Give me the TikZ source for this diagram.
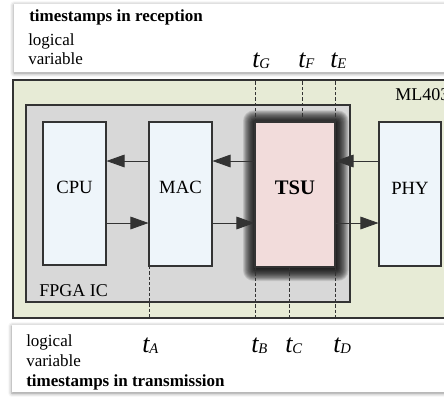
\documentclass[tikz,border=0pt]{standalone}
\usepackage{fontspec}
\setmainfont{Liberation Serif}
\usetikzlibrary{arrows.meta,shadows.blur,fit}

% timestamp symbol: italic t with a slightly lowered italic subscript
\newcommand{\stamp}[1]{{\fontsize{19.5}{20}\selectfont\itshape t\raisebox{-0.8pt}{\fontsize{11}{11}\selectfont\itshape #1}}}

\definecolor{boardfill}{HTML}{E7EBD6}
\definecolor{chipfill}{HTML}{D8D8D8}
\definecolor{blockfill}{HTML}{EEF5FA}
\definecolor{tsufill}{HTML}{F2DCDB}
\definecolor{edge}{HTML}{333333}

\begin{document}
\begin{tikzpicture}[x=0.75pt,y=-0.75pt,
  panel/.style={fill=white, draw=none,
    blur shadow={shadow xshift=0pt, shadow yshift=-0.8pt, shadow blur radius=3pt, shadow opacity=45}},
  frame/.style={draw=edge, line width=0.8pt, inner sep=0pt},
  blk/.style={frame, fill=blockfill, font=\fontsize{14}{16}\selectfont},
  tsublk/.style={frame, fill=tsufill, font=\fontsize{15.5}{17}\selectfont\bfseries},
  halo/.style={fill=black, opacity=0.1},
  txt/.style={anchor=base west, inner sep=0pt, font=\fontsize{12.75}{14}\selectfont},
  head/.style={txt, font=\fontsize{12.75}{14}\selectfont\bfseries},
  ts/.style={anchor=base west, inner sep=0pt},
  arr/.style={draw=edge, line width=0.6pt, -{Triangle[length=13.5pt,width=9.5pt]}},
  tick/.style={draw=edge, line width=0.5pt, dash pattern=on 2.6pt off 1.4pt}
]
\useasboundingbox (0,0) rectangle (444,397);
\clip (0,0) rectangle (444,397);

% reception panel
\node[panel, fit={(14,4) (470,72)}, inner sep=0pt] (rxpanel) {};
\node[head] (rxhead) at (29,21) {timestamps in reception};
\node[txt] (rxl1) at (28,45) {logical};
\node[txt] (rxl2) at (28,64) {variable};

% transmission panel
\node[panel, fit={(12,325) (470,392)}, inner sep=0pt] (txpanel) {};
\node[txt] (txl1) at (26,346) {logical};
\node[txt] (txl2) at (26,366) {variable};
\node[head] (txhead) at (26,386) {timestamps in transmission};

% board and FPGA
\node[frame, fill=boardfill, fit={(13,80) (470,318)}] (board) {};
\node[txt, font=\fontsize{13.5}{15}\selectfont] (boardlbl) at (395,100) {ML403};
\node[frame, fill=chipfill, fit={(26,105) (350,302)}] (fpga) {};
\node[txt, font=\fontsize{13.5}{15}\selectfont] (fpgalbl) at (39,296) {FPGA IC};

% functional blocks
\node[blk, fit={(43,122) (106,265)}] (cpu) {CPU};
\node[blk, fit={(149,122) (212,266)}] (mac) {MAC};
\coordinate (tsunw) at (255,122);
\coordinate (tsuse) at (335,267);
% soft dark shadow round the TSU, built from stacked translucent layers
\foreach \i in {1,...,16} {
  \fill[halo, rounded corners=0.5*\i pt]
    ([shift={(-0.8*\i+0.8,-0.8*\i+1.2)}]tsunw) rectangle ([shift={(0.8*\i+0.8,0.8*\i+1.2)}]tsuse);
}
\node[tsublk, fit=(tsunw) (tsuse)] (tsu) {TSU};
\node[blk, fit={(379,122) (441,266)}] (phy) {PHY};

% rows of the receive and transmit paths
\coordinate (rxrow) at (0,161);
\coordinate (txrow) at (0,223);

\draw[arr] (mac.west |- rxrow) -- (cpu.east |- rxrow);
\draw[arr] (tsu.west |- rxrow) -- (mac.east |- rxrow);
\draw[arr] (phy.west |- rxrow) -- (tsu.east |- rxrow);
\draw[arr] (cpu.east |- txrow) -- (mac.west |- txrow);
\draw[arr] (mac.east |- txrow) -- (tsu.west |- txrow);
\draw[arr] (tsu.east |- txrow) -- (phy.west |- txrow);

% timestamp tap points
\coordinate (tG) at (255,122);
\coordinate (tF) at (302,122);
\coordinate (tE) at (335,122);
\coordinate (tA) at (149,266);
\coordinate (tB) at (255,267);
\coordinate (tC) at (289,267);
\coordinate (tD) at (335,267);

\draw[tick] (tG) -- (tG |- board.north);
\draw[tick] (tF) -- (tF |- board.north);
\draw[tick] (tE) -- (tE |- board.north);
\draw[tick] (tA) -- (tA |- board.south);
\draw[tick] (tB) -- (tB |- board.south);
\draw[tick] (tC) -- (tC |- board.south);
\draw[tick] (tD) -- (tD |- board.south);

% timestamp labels
\node[ts] (lG) at (252,67) {\stamp{G}};
\node[ts] (lF) at (298,67) {\stamp{F}};
\node[ts] (lE) at (330,67) {\stamp{E}};
\node[ts] (lA) at (142,352) {\stamp{A}};
\node[ts] (lB) at (251,352) {\stamp{B}};
\node[ts] (lC) at (285,352) {\stamp{C}};
\node[ts] (lD) at (333,352) {\stamp{D}};
\end{tikzpicture}
\end{document}
